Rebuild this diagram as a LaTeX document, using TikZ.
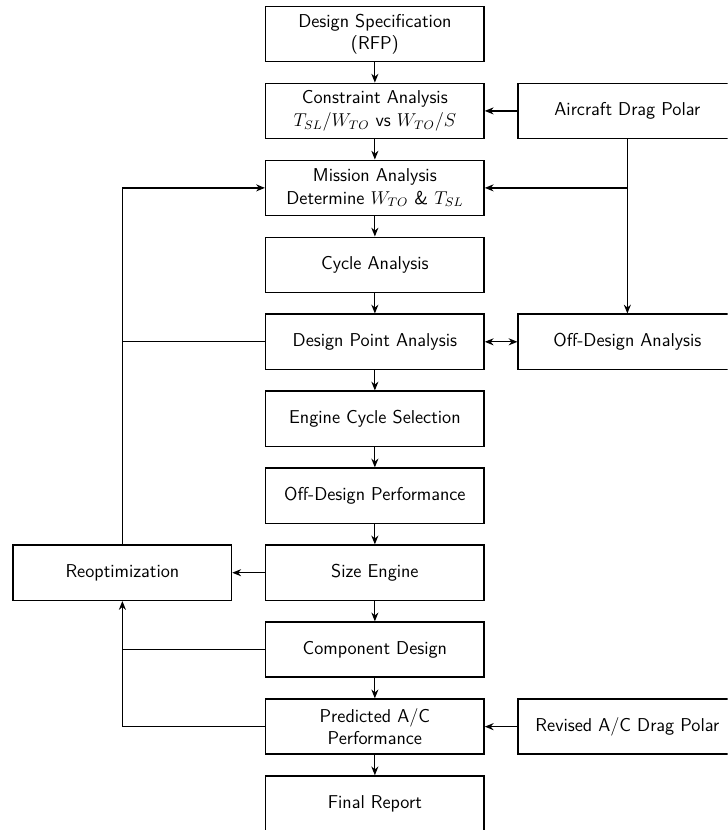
\documentclass[tikz,border=0pt,12pt]{standalone}
\usetikzlibrary{positioning,arrows.meta}

\begin{document}
\begin{tikzpicture}[
  font=\sffamily,
  block/.style={draw, line width=1pt, minimum width=4.95cm, minimum height=1.25cm, align=center, inner sep=2pt},
  link/.style={thick, -{Stealth[length=2mm,width=1.6mm]}},
  node distance=0.46cm and 0.74cm
]
  \path[use as bounding box, clip] (-8.5,0.77) rectangle (8.0,-18.05);

  % main column
  \node[block] (spec) at (0,0) {Design Specification\\(RFP)};
  \node[block, below=of spec] (cons) {Constraint Analysis\\$T_{SL}/W_{TO}$ vs $W_{TO}/S$};
  \node[block, below=of cons] (miss) {Mission Analysis\\Determine $W_{TO}$ \& $T_{SL}$};
  \node[block, below=of miss] (cyc) {Cycle Analysis};
  \node[block, below=of cyc] (dp) {Design Point Analysis};
  \node[block, below=of dp] (ecs) {Engine Cycle Selection};
  \node[block, below=of ecs] (odp) {Off-Design Performance};
  \node[block, below=of odp] (size) {Size Engine};
  \node[block, below=of size] (comp) {Component Design};
  \node[block, below=of comp] (pred) {Predicted A/C\\Performance};
  \node[block, below=of pred] (final) {Final Report};

  % side boxes
  \node[block, right=of cons] (polar) {Aircraft Drag Polar};
  \node[block, right=of dp] (offd) {Off-Design Analysis};
  \node[block, left=of size] (reopt) {Reoptimization};
  \node[block, right=of pred] (revised) {Revised A/C Drag Polar};

  \foreach \a/\b in {spec/cons, cons/miss, miss/cyc, cyc/dp, dp/ecs, ecs/odp, odp/size, size/comp, comp/pred, pred/final}
    \draw[link] (\a) -- (\b);

  \draw[link] (polar) -- (cons);
  \draw[link] (polar) -- (offd);
  \draw[link] (polar |- miss) -- (miss);
  \draw[thick, {Stealth[length=2mm,width=1.6mm]}-{Stealth[length=2mm,width=1.6mm]}] (dp) -- (offd);

  \draw[link] (size) -- (reopt);
  \draw[link] (reopt) |- (miss);
  \draw[thick] (dp) -- (dp -| reopt);
  \draw[thick] (comp) -- (comp -| reopt);
  \draw[link] (pred) -| (reopt);
  \draw[link] (revised) -- (pred);
\end{tikzpicture}
\end{document}
